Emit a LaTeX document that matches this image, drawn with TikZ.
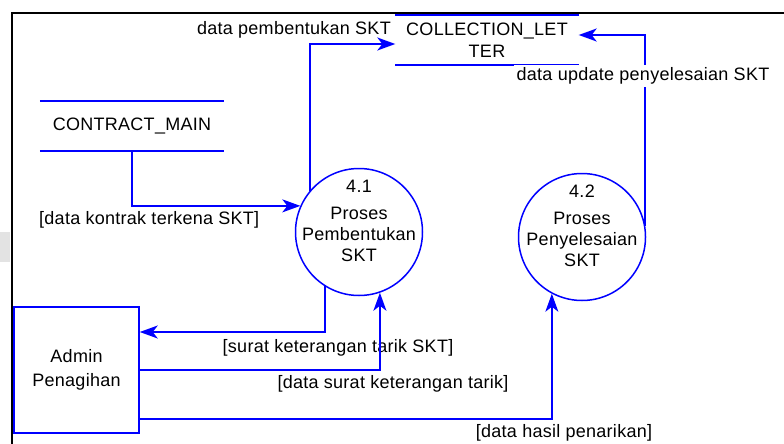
\documentclass[tikz,border=0pt]{standalone}
\usepackage{fontspec}
\setmainfont[LetterSpace=1.5]{Liberation Sans}
\usetikzlibrary{arrows.meta}
\definecolor{flowblue}{RGB}{0,0,255}
\begin{document}
\begin{tikzpicture}[x=1pt,y=-1pt,
  every node/.style={font=\fontsize{18}{21}\selectfont, text=black},
  flow/.style={draw=flowblue, line width=1.6pt,
    -{Stealth[length=18pt,width=13pt,inset=5pt]}},
  storebox/.style={minimum width=#1, minimum height=50pt, inner sep=0pt},
  storeline/.style={draw=flowblue, line width=1.8pt},
  proc/.style={circle, draw=flowblue, line width=1.5pt, minimum size=127pt, inner sep=0pt},
  entity/.style={rectangle, draw=flowblue, line width=1.5pt, minimum width=125pt, minimum height=126pt, align=center},
  lbl/.style={inner sep=1pt}
]
\useasboundingbox (0,0) rectangle (784,444);
% faint grey smudge at the left edge
\fill[gray!22] (0,232) rectangle (10,262);
% outer frame
\draw[black, line width=2pt] (12,444) -- (12,13) -- (784,13);

% data stores
\node[storebox=184pt] (cm) at (132,126) {CONTRACT\_MAIN};
\draw[storeline] (cm.north west) -- (cm.north east);
\draw[storeline] (cm.south west) -- (cm.south east);

\node[storebox=183pt, align=center, font=\fontsize{18}{22}\selectfont] (cl) at (487,40) {COLLECTION\_LET\\TER};
\draw[storeline] (cl.north west) -- (cl.north east);
\draw[storeline] (cl.south west) -- (cl.south east);

% processes
\node[proc] (p41) at (359,232) {};
\node[align=center, font=\fontsize{18}{21}\selectfont] (t41) at (359,221) {4.1\\[6pt]Proses\\Pembentukan\\SKT};
\node[proc] (p42) at (582,237) {};
\node[align=center, font=\fontsize{18}{21}\selectfont] (t42) at (582,226) {4.2\\[6pt]Proses\\Penyelesaian\\SKT};

% external entity
\node[entity] (admin) at (76.5,370) {Admin\\[3pt]Penagihan};

% data flows
\draw[flow] (cm.south) |- (p41.156);
\node[lbl, anchor=west] (l1) at (38,220) {[data kontrak terkena SKT]};

\draw[flow] (p41.140.5) |- ([yshift=-4pt]cl.west);
\node[lbl, anchor=east] (l2) at (392,30) {data pembentukan SKT};

\draw[flow] (p42.10) |- ([yshift=5pt]cl.east);
\node[lbl, fill=white, inner sep=3pt] (l3) at (643,76) {data update penyelesaian SKT};

\draw[flow] (p41.238.7) |- ([yshift=38pt]admin.east);
\node[lbl] (l4) at (338,348) {[surat keterangan tarik SKT]};

\draw[flow] (admin.east) -| (p41.289.3);
\node[lbl] (l5) at (393,384) {[data surat keterangan tarik]};

\draw[flow] ([yshift=-49pt]admin.east) -| (p42.242);
\node[lbl] (l6) at (564,433) {[data hasil penarikan]};
\end{tikzpicture}
\end{document}
